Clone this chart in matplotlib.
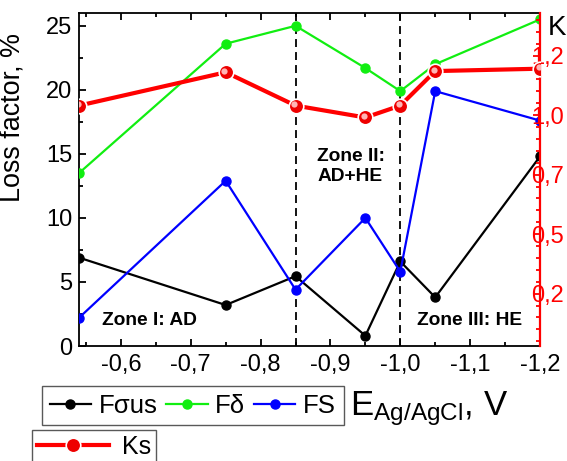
import matplotlib
matplotlib.use("Agg")
import matplotlib.pyplot as plt
from matplotlib.ticker import MultipleLocator, FuncFormatter, FixedLocator, FixedFormatter
import matplotlib.transforms as mtransforms


# Data
potential = [-0.54, -0.75, -0.85, -0.95, -1.0, -1.05, -1.2]
f_sigma_us = [6.9, 3.2, 5.45, 0.8, 6.6, 3.8, 14.8]
f_delta = [13.5, 23.6, 25.0, 21.7, 19.9, 22.0, 25.5]
f_s = [2.2, 12.9, 4.4, 10.0, 5.8, 19.9, 17.6]
ks = [1.04, 1.18, 1.04, 0.99, 1.04, 1.185, 1.195]

zone_borders = [-0.85, -1.0]
# the right tick labels are shown as in the original (clipped to 3 characters)
right_ticks = [0.25, 0.5, 0.75, 1.0, 1.25]
right_labels = ["0,2", "0,5", "0,7", "1,0", "1,2"]


# Style
plt.rcParams["font.family"] = ["Liberation Sans", "DejaVu Sans"]
plt.rcParams["mathtext.fontset"] = "custom"
plt.rcParams["mathtext.rm"] = "Liberation Sans"
plt.rcParams["mathtext.it"] = "Liberation Sans:italic"
plt.rcParams["axes.unicode_minus"] = False

fig = plt.figure(figsize=(5.67, 4.61), dpi=100)
ax = fig.add_axes([79 / 567, 1 - 346 / 461, (540 - 79) / 567, (346 - 13) / 461])
ax2 = ax.twinx()

# Loss factors
ax.plot(potential, f_sigma_us, color="black", lw=1.6, marker="o", ms=6.5, zorder=3)
ax.plot(potential, f_delta, color="#11ee11", lw=1.6, marker="o", ms=6.5, zorder=3)
ax.plot(potential, f_s, color="#0000ff", lw=1.6, marker="o", ms=6.5, zorder=3)

# zone borders
for xb in zone_borders:
    ax.axvline(xb, color="black", lw=1.3, dashes=(4.4, 2.8), zorder=1)

# Ks on the right axis, shaded spheres
ks_line, = ax2.plot(potential, ks, color="#ff0000", lw=3, marker="o", ms=10.5,
                    mfc="#ee0000", mec="white", mew=1.2, zorder=3)
shine = mtransforms.offset_copy(ax2.transData, fig=fig, x=-1.5, y=1.5, units="dots")
ax2.plot(potential, ks, ls="none", marker="o", ms=4.5, mfc="#ffb4b4", mec="none",
         transform=shine, zorder=4)

# axes limits and ticks
ax.set_xlim(-0.54, -1.2)
ax.set_ylim(0, 26)
ax2.set_ylim(0.03, 1.429)

ax.xaxis.set_major_locator(MultipleLocator(0.1))
ax.xaxis.set_minor_locator(MultipleLocator(0.05))
ax.xaxis.set_major_formatter(FuncFormatter(lambda v, p: f"{v:.1f}".replace(".", ",")))
ax.yaxis.set_major_locator(MultipleLocator(5))
ax.yaxis.set_minor_locator(MultipleLocator(2.5))

ax.tick_params(axis="x", which="both", direction="in", top=True, labelsize=17, pad=6, width=1.3)
ax.tick_params(axis="y", which="both", direction="in", right=False, labelsize=17, pad=5, width=1.3)
ax.tick_params(which="major", length=5)
ax.tick_params(which="minor", length=3)

ax2.yaxis.set_major_locator(FixedLocator(right_ticks))
ax2.yaxis.set_major_formatter(FixedFormatter(right_labels))
ax2.yaxis.set_minor_locator(MultipleLocator(0.05))
ax2.tick_params(axis="y", which="both", direction="in", colors="#ff0000",
                labelsize=17, pad=-6.5, width=1.3)
ax2.tick_params(which="major", length=5)
ax2.tick_params(which="minor", length=3)

for s in ["left", "bottom", "top"]:
    ax.spines[s].set_linewidth(1.3)
ax.spines["right"].set_visible(False)
for s in ["left", "bottom", "top"]:
    ax2.spines[s].set_visible(False)
ax2.spines["right"].set_color("#ff0000")
ax2.spines["right"].set_linewidth(1.6)

# labels
ax.set_ylabel("Loss factor, %", fontsize=19.4)
ax.yaxis.set_label_coords(-0.115, 0.685)
fig.text(350 / 567, 1 - 415 / 461, r"E$_{\mathrm{Ag/AgCl}}$, V", fontsize=25, va="baseline")
fig.text(548 / 567, 1 - 35 / 461, "K", fontsize=20, va="baseline")

# zones
zone_font = dict(fontsize=13.8, fontweight="bold", va="center", ha="left")
ax.text(-0.573, 2.0, "Zone I: AD", **zone_font)
ax.text(-0.881, 14.0, "Zone II:\nAD+HE", linespacing=1.25, **zone_font)
ax.text(-1.024, 2.0, "Zone III: HE", **zone_font)

# legends
leg1 = fig.legend(ax.get_lines()[:3], ["F\u03c3us", "F\u03b4", "FS"], ncol=3,
                  loc="upper left", bbox_to_anchor=(42 / 567, 1 - 386 / 461),
                  borderaxespad=0, fontsize=18.5, handlelength=1.6, handletextpad=0.3,
                  columnspacing=0.35, borderpad=0.3, fancybox=False,
                  edgecolor="0.35", framealpha=1)
leg1.get_frame().set_linewidth(1.0)
leg2 = fig.legend([ks_line], ["Ks"], loc="upper left",
                  bbox_to_anchor=(32 / 567, 1 - 430 / 461), borderaxespad=0,
                  fontsize=18, handlelength=2.9, handletextpad=0.5, borderpad=0.2,
                  fancybox=False, edgecolor="0.35", framealpha=1)
leg2.get_frame().set_linewidth(1.0)

fig.savefig("out.png", dpi=100)
